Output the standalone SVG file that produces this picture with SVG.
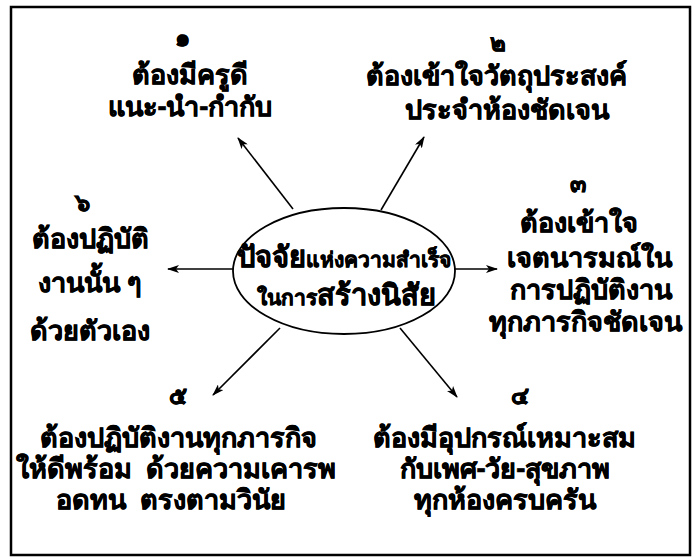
<svg xmlns="http://www.w3.org/2000/svg" width="700" height="560" viewBox="0 0 700 560">
<style>
text{font-family:"Noto Sans","DejaVu Sans",sans-serif;font-weight:bold;fill:#000;stroke:#000;stroke-width:0.6;text-anchor:middle}
.t{font-size:27px}
.n{font-size:24px}
.big{font-size:29px}
.sm{font-size:21px}
.c line{stroke:#000;stroke-width:1.6;marker-end:url(#ah)}
</style>
<defs>
<marker id="ah" viewBox="0 0 12 8" refX="11" refY="4" markerWidth="12" markerHeight="8" markerUnits="userSpaceOnUse" orient="auto">
<path d="M0,0 L12,4 L0,8 L3,4 Z" fill="#000"/>
</marker>
</defs>
<rect x="11" y="7" width="679" height="548" fill="#fff" stroke="#000" stroke-width="2.5"/>
<g class="c" id="connectors">
<line x1="293" y1="209" x2="238" y2="138"/>
<line x1="381" y1="210" x2="424" y2="137"/>
<line x1="454" y1="269" x2="497" y2="269"/>
<line x1="400" y1="328" x2="457" y2="397"/>
<line x1="280" y1="328" x2="213" y2="395"/>
<line x1="233" y1="269" x2="168" y2="269"/>
</g>
<g id="center">
<ellipse cx="344" cy="271" rx="111" ry="63" fill="none" stroke="#000" stroke-width="1.8"/>
<text x="344" y="267"><tspan class="big">ปัจจัย</tspan><tspan class="sm">แห่งความสำเร็จ</tspan></text>
<text x="346" y="305"><tspan class="sm">ในการ</tspan><tspan class="big">สร้างนิสัย</tspan></text>
</g>
<g id="node1">
<text class="n" x="182" y="46">๑</text>
<text class="t" x="190" y="84">ต้องมีครูดี</text>
<text class="t" x="190" y="116">แนะ-นำ-กำกับ</text>
</g>
<g id="node2">
<text class="n" x="498" y="51">๒</text>
<text class="t" x="496" y="85">ต้องเข้าใจวัตถุประสงค์</text>
<text class="t" x="507" y="119">ประจำห้องชัดเจน</text>
</g>
<g id="node3">
<text class="n" x="578" y="192">๓</text>
<text class="t" x="579" y="232">ต้องเข้าใจ</text>
<text class="t" x="589" y="267">เจตนารมณ์ใน</text>
<text class="t" x="591" y="299">การปฏิบัติงาน</text>
<text class="t" x="585" y="331">ทุกภารกิจชัดเจน</text>
</g>
<g id="node4">
<text class="n" x="520" y="404">๔</text>
<text class="t" x="504" y="447">ต้องมีอุปกรณ์เหมาะสม</text>
<text class="t" x="505" y="478">กับเพศ-วัย-สุขภาพ</text>
<text class="t" x="505" y="509">ทุกห้องครบครัน</text>
</g>
<g id="node5">
<text class="n" x="178" y="404">๕</text>
<text class="t" x="178" y="447">ต้องปฏิบัติงานทุกภารกิจ</text>
<text class="t" x="176" y="478" xml:space="preserve">ให้ดีพร้อม  ด้วยความเคารพ</text>
<text class="t" x="171" y="509" xml:space="preserve">อดทน  ตรงตามวินัย</text>
</g>
<g id="node6">
<text class="n" x="82" y="211">๖</text>
<text class="t" x="90" y="248">ต้องปฏิบัติ</text>
<text class="t" x="90" y="292">งานนั้น ๆ</text>
<text class="t" x="90" y="340">ด้วยตัวเอง</text>
</g>
</svg>
